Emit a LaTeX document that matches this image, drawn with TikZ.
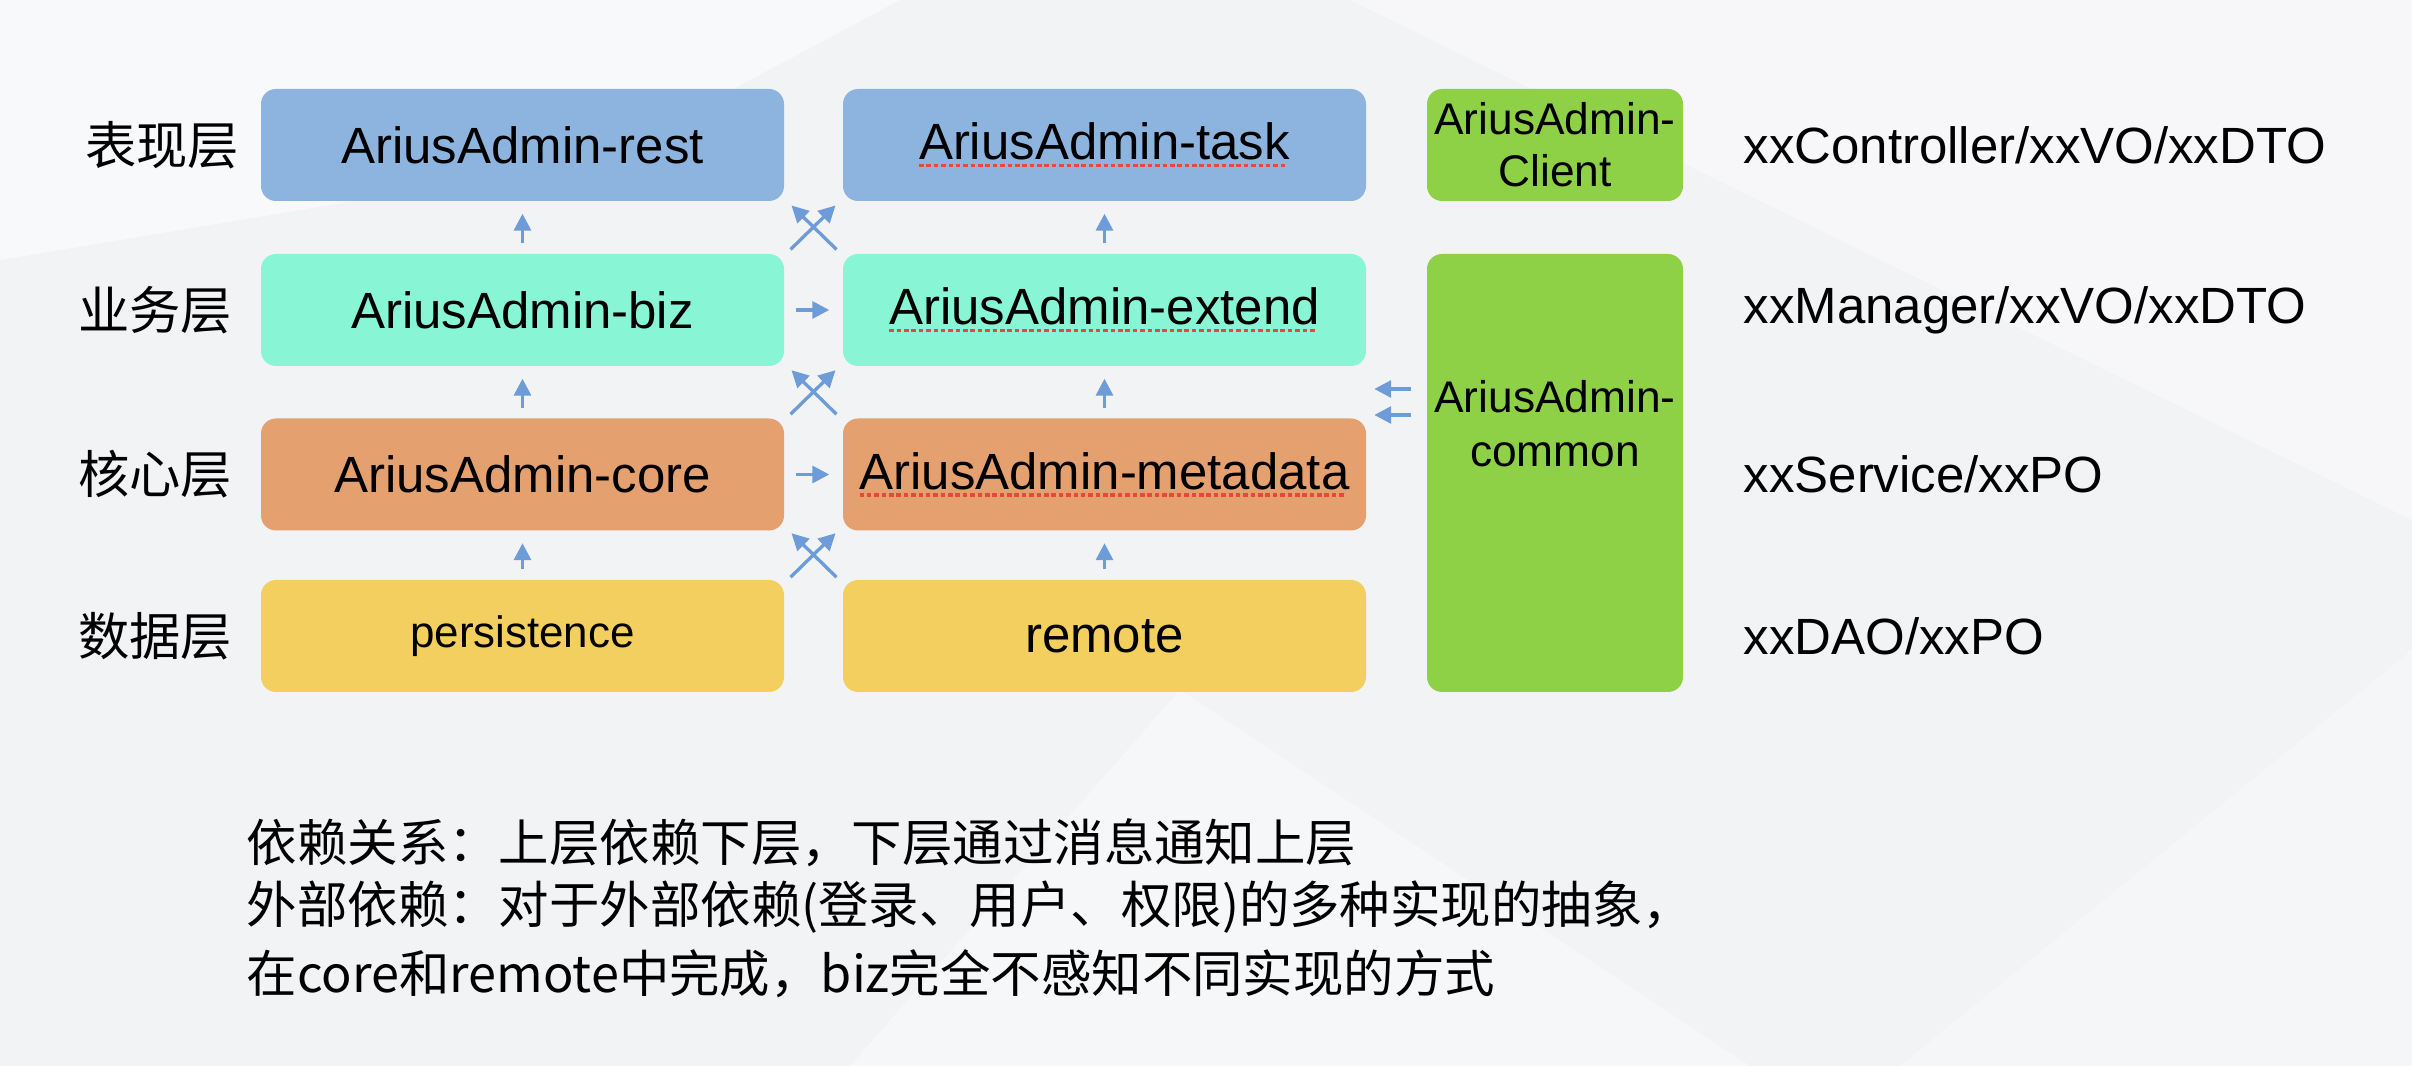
\documentclass[tikz,border=0pt]{standalone}
\usepackage{fontspec}
\setmainfont{Liberation Sans}
\newfontfamily\cjk{Noto Sans CJK SC}
\usetikzlibrary{arrows.meta,calc,positioning}

\definecolor{showblue}{HTML}{8DB4DE}
\definecolor{bizgreen}{HTML}{88F5D4}
\definecolor{coreorange}{HTML}{E5A06F}
\definecolor{datayellow}{HTML}{F2CF5E}
\definecolor{commongreen}{HTML}{8FD146}
\definecolor{arrowblue}{HTML}{6D9CD8}
\definecolor{spellred}{HTML}{E4493C}
\definecolor{bggray}{HTML}{F2F3F5}

\newcommand{\boxfont}{\fontsize{14.5pt}{14pt}\selectfont}
\newcommand{\sidefont}{\fontsize{12.6pt}{14pt}\selectfont}
\newcommand{\notefont}{\cjk\fontsize{14.35pt}{17pt}\selectfont}
% red dotted spell-check line under a word
\newcommand{\spellmark}[1]{\setbox0\hbox{#1}%
  \rlap{\raisebox{-2.2pt}{\color{spellred}\hbox to\wd0{\leaders\hbox to 2.1pt{\rule{1.3pt}{1pt}\hss}\hfill}}}\box0}

\tikzset{
  layer/.style={rounded corners=0.15cm, minimum width=5.23cm, minimum height=1.12cm, inner sep=0pt, font=\boxfont},
  showlayer/.style={layer, fill=showblue},
  bizlayer/.style={layer, fill=bizgreen},
  corelayer/.style={layer, fill=coreorange},
  datalayer/.style={layer, fill=datayellow},
  sidebox/.style={layer, fill=commongreen, minimum width=2.56cm, align=center, font=\sidefont},
  rowname/.style={font=\cjk\fontsize{14.6pt}{15pt}\selectfont},
  kinds/.style={anchor=west, inner sep=0pt, font=\boxfont},
  note/.style={anchor=west, inner sep=0pt, font=\notefont},
  dep/.style={arrowblue, line width=0.95pt, -{Triangle[length=4.8pt,width=4.8pt]}},
}

\begin{document}
\begin{tikzpicture}
\fill[bggray] (0,0) rectangle (24.12,-10.66);
\fill[white,opacity=0.5] (0,0) -- (9,0) -- (6,-1.6) -- (0,-2.6) -- cycle;
\fill[white,opacity=0.4] (13.5,0) -- (24.12,0) -- (24.12,-5.2) -- cycle;
\fill[white,opacity=0.35] (8.5,-10.66) -- (11.8,-6.9) -- (17.5,-10.66) -- cycle;
\fill[white,opacity=0.3] (19,-10.66) -- (24.12,-6.5) -- (24.12,-10.66) -- cycle;

% layers
\node[showlayer] (rest) at (5.225,-1.45) {AriusAdmin-rest};
\node[showlayer] (task) at (11.045,-1.45) {\spellmark{AriusAdmin-task}};
\node[bizlayer] (biz) at (5.225,-3.10) {AriusAdmin-biz};
\node[bizlayer] (extend) at (11.045,-3.10) {\spellmark{AriusAdmin-extend}};
\node[corelayer] (core) at (5.225,-4.745) {AriusAdmin-core};
\node[corelayer] (metadata) at (11.045,-4.745) {\spellmark{AriusAdmin-metadata}};
\node[datalayer, font=\fontsize{12.5pt}{13pt}\selectfont] (persistence) at (5.225,-6.36) {persistence};
\node[datalayer] (remote) at (11.045,-6.36) {remote};

\node[sidebox] (client) at (15.55,-1.45) {\raisebox{-0.16cm}{\shortstack{AriusAdmin-\\[2.5pt]Client}}};
\node[sidebox, minimum height=4.38cm] (common) at (15.55,-4.73) {};
\node[align=center, font=\fontsize{12.6pt}{15.4pt}\selectfont] (commontext) at ([yshift=0.49cm]common.center) {AriusAdmin-\\common};

% row names
\node[rowname] (show) at (1.62,-1.45) {表现层};
\node[rowname] (service) at (1.55,-3.10) {业务层};
\node[rowname] (kernel) at (1.55,-4.745) {核心层};
\node[rowname] (store) at (1.55,-6.36) {数据层};

\node[kinds] (vo) at (17.43,-1.45) {xxController/xxVO/xxDTO};
\node[kinds] (dto) at (17.43,-3.10) {xxManager/xxVO/xxDTO};
\node[kinds] (po) at (17.43,-4.745) {xxService/xxPO};
\node[kinds] (dao) at (17.43,-6.36) {xxDAO/xxPO};

% dependencies
\foreach \a/\b in {biz/rest,core/biz,persistence/core,extend/task,metadata/extend,remote/metadata}
  \draw[dep, shorten <=0.1cm, shorten >=0.12cm] (\a) -- (\b);
\draw[dep, shorten <=0.11cm, shorten >=0.13cm] (biz) -- (extend);
\draw[dep, shorten <=0.11cm, shorten >=0.13cm] (core) -- (metadata);
\foreach \a/\b in {rest/extend,biz/metadata,core/remote}{
  \coordinate (x\a) at ($(\a.south east)!0.5!(\b.north west)$);
  \draw[dep] ([shift={(0.23,-0.22)}]x\a) -- ([shift={(-0.22,0.22)}]x\a);
  \draw[dep] ([shift={(-0.23,-0.22)}]x\a) -- ([shift={(0.22,0.22)}]x\a);
}
\draw[dep, shorten <=0.15cm] ([yshift=0.84cm]common.west) -- ++(-0.52,0);
\draw[dep, shorten <=0.15cm] ([yshift=0.58cm]common.west) -- ++(-0.52,0);

% notes
\node[note] (note1) at (2.46,-8.43) {依赖关系：上层依赖下层，下层通过消息通知上层};
\node[note] (note2) at (2.46,-9.07) {外部依赖：对于外部依赖(登录、用户、权限)的多种实现的抽象，};
\node[note] (note3) at (2.46,-9.74) {在core和remote中完成，biz完全不感知不同实现的方式};
\end{tikzpicture}
\end{document}
